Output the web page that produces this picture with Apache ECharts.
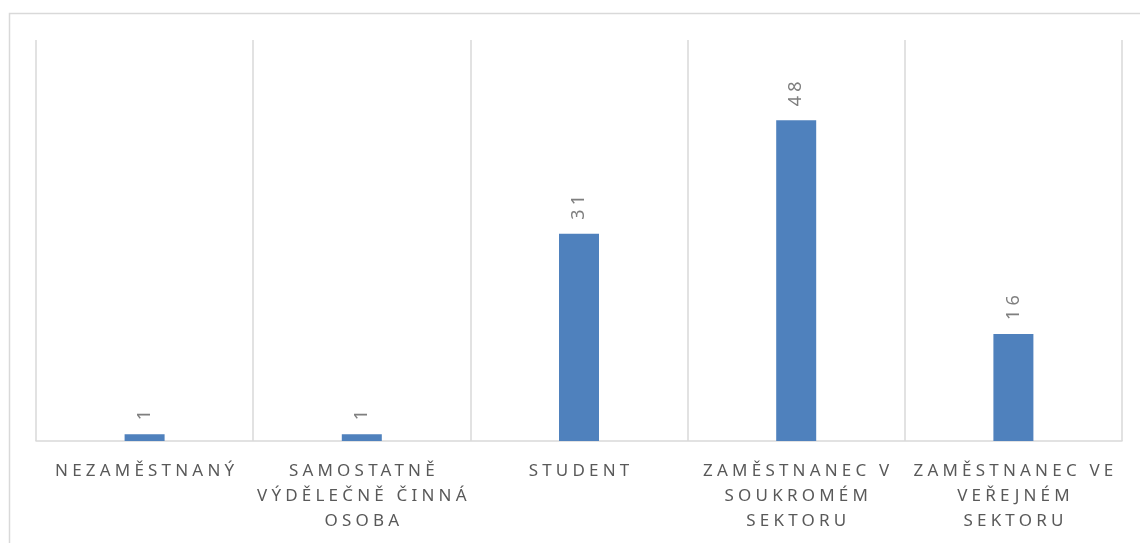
<!DOCTYPE html>
<html>
<head>
<meta charset="utf-8">
<script src="https://cdn.jsdelivr.net/npm/echarts@6/dist/echarts.min.js"></script>
<style>
html,body{margin:0;padding:0;background:#fff;}
#chart{width:1140px;height:543px;}
</style>
</head>
<body>
<div id="chart"></div>
<script>
const categories = ["NEZAMĚSTNANÝ", "SAMOSTATNĚ\nVÝDĚLEČNĚ ČINNÁ\nOSOBA", "STUDENT", "ZAMĚSTNANEC V\nSOUKROMÉM\nSEKTORU", "ZAMĚSTNANEC VE\nVEŘEJNÉM\nSEKTORU"];
const values = [1, 1, 31, 48, 16];

// letter spacing for the category labels (canvas letterSpacing)
(function(){
  const proto = CanvasRenderingContext2D.prototype;
  const orig = proto.fillText;
  proto.fillText = function(t, x, y, w){
    if (this.font && this.font.indexOf('17px') >= 0 && 'letterSpacing' in this) {
      const prev = this.letterSpacing;
      this.letterSpacing = '4.2px';
      const r = w === undefined ? orig.call(this, t, x + 2.1, y) : orig.call(this, t, x + 2.1, y, w);
      this.letterSpacing = prev;
      return r;
    }
    return w === undefined ? orig.call(this, t, x, y) : orig.call(this, t, x, y, w);
  };
})();

const chart = echarts.init(document.getElementById('chart'), null, {renderer: 'canvas'});
chart.setOption({
  animation: false,
  backgroundColor: '#ffffff',
  graphic: [{
    type: 'rect',
    left: 7, top: 11,
    shape: {width: 1160, height: 560},
    style: {fill: 'none', stroke: '#d9d9d9', lineWidth: 1.5},
    silent: true
  }],
  grid: {left: 36, right: 18, top: 40, bottom: 102, containLabel: false},
  xAxis: {
    type: 'category',
    data: categories,
    boundaryGap: true,
    axisLine: {show: true, lineStyle: {color: '#d9d9d9', width: 1.5}},
    axisTick: {show: false},
    splitLine: {show: true, lineStyle: {color: '#d9d9d9', width: 1.5}},
    axisLabel: {
      interval: 0,
      color: '#595959',
      fontFamily: 'Noto Sans',
      fontSize: 17,
      lineHeight: 25,
      margin: 18
    }
  },
  yAxis: {
    type: 'value',
    min: 0, max: 60,
    show: false,
    splitLine: {show: false}
  },
  series: [{
    type: 'bar',
    data: values,
    barWidth: 40,
    itemStyle: {color: '#4f81bd'},
    label: {
      show: true,
      position: 'top',
      rotate: 90,
      align: 'left',
      verticalAlign: 'middle',
      distance: 14,
      color: '#7f7f7f',
      fontFamily: 'Noto Sans',
      fontSize: 18
    }
  }]
});
</script>
</body>
</html>
